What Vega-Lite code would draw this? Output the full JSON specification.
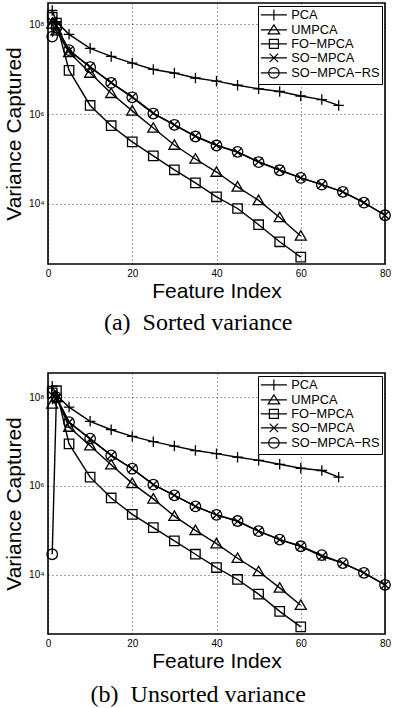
{
  "$schema": "https://vega.github.io/schema/vega-lite/v6.json",
  "padding": {"left": 2, "top": 1, "right": 5, "bottom": 0},
  "spacing": 36,
  "config": {
    "font": "Liberation Sans",
    "view": {"stroke": "black", "strokeWidth": 1.6},
    "axis": {
      "labelFont": "Liberation Sans", "labelFontSize": 10, "labelColor": "black",
      "titleFont": "Liberation Sans", "titleFontSize": 21, "titleFontWeight": "normal", "titleColor": "black",
      "domain": false, "ticks": false, "grid": true, "gridColor": "black", "gridDash": [1, 3],
      "gridWidth": 0.8, "gridOpacity": 0.9, "labelPadding": 4
    },
    "axisX": {"titlePadding": 2, "labelFlush": false},
    "axisY": {"titlePadding": 4},
    "legend": {
      "labelFont": "Liberation Sans", "labelFontSize": 12.8, "labelColor": "black",
      "fillColor": "white", "strokeColor": "black", "padding": 2.5,
      "rowPadding": -1, "symbolSize": 100, "symbolOffset": 7, "labelOffset": 11,
      "symbolStrokeColor": "black", "symbolStrokeWidth": 1.2, "symbolFillColor": "transparent"
    }
  },
  "datasets": {
    "sorted": [
      {"s": "PCA", "x": 1, "v": 199500000}, {"s": "PCA", "x": 2, "v": 112200000}, {"s": "PCA", "x": 5, "v": 58880000},
      {"s": "PCA", "x": 10, "v": 28840000}, {"s": "PCA", "x": 15, "v": 19050000}, {"s": "PCA", "x": 20, "v": 13490000},
      {"s": "PCA", "x": 25, "v": 9772000}, {"s": "PCA", "x": 30, "v": 8128000}, {"s": "PCA", "x": 35, "v": 6310000},
      {"s": "PCA", "x": 40, "v": 5370000}, {"s": "PCA", "x": 45, "v": 4365000}, {"s": "PCA", "x": 50, "v": 3631000},
      {"s": "PCA", "x": 55, "v": 3162000}, {"s": "PCA", "x": 60, "v": 2512000}, {"s": "PCA", "x": 65, "v": 2089000},
      {"s": "PCA", "x": 69, "v": 1549000},
      {"s": "UMPCA", "x": 1, "v": 100000000}, {"s": "UMPCA", "x": 2, "v": 70790000}, {"s": "UMPCA", "x": 5, "v": 23440000},
      {"s": "UMPCA", "x": 10, "v": 8128000}, {"s": "UMPCA", "x": 15, "v": 2884000}, {"s": "UMPCA", "x": 20, "v": 1175000},
      {"s": "UMPCA", "x": 25, "v": 489800}, {"s": "UMPCA", "x": 30, "v": 204200}, {"s": "UMPCA", "x": 35, "v": 100000},
      {"s": "UMPCA", "x": 40, "v": 51290}, {"s": "UMPCA", "x": 45, "v": 23990}, {"s": "UMPCA", "x": 50, "v": 12020},
      {"s": "UMPCA", "x": 55, "v": 5012}, {"s": "UMPCA", "x": 60, "v": 1950},
      {"s": "FO-MPCA", "x": 1, "v": 141300000}, {"s": "FO-MPCA", "x": 2, "v": 104700000}, {"s": "FO-MPCA", "x": 5, "v": 9333000},
      {"s": "FO-MPCA", "x": 10, "v": 1549000}, {"s": "FO-MPCA", "x": 15, "v": 549500}, {"s": "FO-MPCA", "x": 20, "v": 239900},
      {"s": "FO-MPCA", "x": 25, "v": 117500}, {"s": "FO-MPCA", "x": 30, "v": 57540}, {"s": "FO-MPCA", "x": 35, "v": 29510},
      {"s": "FO-MPCA", "x": 40, "v": 14450}, {"s": "FO-MPCA", "x": 45, "v": 7943}, {"s": "FO-MPCA", "x": 50, "v": 3467},
      {"s": "FO-MPCA", "x": 55, "v": 1445}, {"s": "FO-MPCA", "x": 60, "v": 660.7},
      {"s": "SO-MPCA", "x": 1, "v": 112200000}, {"s": "SO-MPCA", "x": 2, "v": 89130000}, {"s": "SO-MPCA", "x": 5, "v": 25700000},
      {"s": "SO-MPCA", "x": 10, "v": 11220000}, {"s": "SO-MPCA", "x": 15, "v": 5012000}, {"s": "SO-MPCA", "x": 20, "v": 2399000},
      {"s": "SO-MPCA", "x": 25, "v": 1047000}, {"s": "SO-MPCA", "x": 30, "v": 575400}, {"s": "SO-MPCA", "x": 35, "v": 323600},
      {"s": "SO-MPCA", "x": 40, "v": 204200}, {"s": "SO-MPCA", "x": 45, "v": 141300}, {"s": "SO-MPCA", "x": 50, "v": 87100},
      {"s": "SO-MPCA", "x": 55, "v": 57540}, {"s": "SO-MPCA", "x": 60, "v": 38020}, {"s": "SO-MPCA", "x": 65, "v": 26920},
      {"s": "SO-MPCA", "x": 70, "v": 18620}, {"s": "SO-MPCA", "x": 75, "v": 10720}, {"s": "SO-MPCA", "x": 80, "v": 5623},
      {"s": "SO-MPCA-RS", "x": 1, "v": 52480000}, {"s": "SO-MPCA-RS", "x": 2, "v": 83180000}, {"s": "SO-MPCA-RS", "x": 5, "v": 26300000},
      {"s": "SO-MPCA-RS", "x": 10, "v": 10960000}, {"s": "SO-MPCA-RS", "x": 15, "v": 4898000}, {"s": "SO-MPCA-RS", "x": 20, "v": 2344000},
      {"s": "SO-MPCA-RS", "x": 25, "v": 1023000}, {"s": "SO-MPCA-RS", "x": 30, "v": 575400}, {"s": "SO-MPCA-RS", "x": 35, "v": 316200},
      {"s": "SO-MPCA-RS", "x": 40, "v": 199500}, {"s": "SO-MPCA-RS", "x": 45, "v": 144500}, {"s": "SO-MPCA-RS", "x": 50, "v": 85110},
      {"s": "SO-MPCA-RS", "x": 55, "v": 56230}, {"s": "SO-MPCA-RS", "x": 60, "v": 38020}, {"s": "SO-MPCA-RS", "x": 65, "v": 26920},
      {"s": "SO-MPCA-RS", "x": 70, "v": 18620}, {"s": "SO-MPCA-RS", "x": 75, "v": 10720}, {"s": "SO-MPCA-RS", "x": 80, "v": 5623}
    ],
    "unsorted": [
      {"s": "PCA", "x": 1, "v": 177800000}, {"s": "PCA", "x": 2, "v": 112200000}, {"s": "PCA", "x": 5, "v": 60260000},
      {"s": "PCA", "x": 10, "v": 28840000}, {"s": "PCA", "x": 15, "v": 18620000}, {"s": "PCA", "x": 20, "v": 13180000},
      {"s": "PCA", "x": 25, "v": 10000000}, {"s": "PCA", "x": 30, "v": 7943000}, {"s": "PCA", "x": 35, "v": 6310000},
      {"s": "PCA", "x": 40, "v": 5370000}, {"s": "PCA", "x": 45, "v": 4467000}, {"s": "PCA", "x": 50, "v": 3802000},
      {"s": "PCA", "x": 55, "v": 3090000}, {"s": "PCA", "x": 60, "v": 2512000}, {"s": "PCA", "x": 65, "v": 2239000},
      {"s": "PCA", "x": 69, "v": 1585000},
      {"s": "UMPCA", "x": 1, "v": 70790000}, {"s": "UMPCA", "x": 2, "v": 100000000}, {"s": "UMPCA", "x": 5, "v": 21380000},
      {"s": "UMPCA", "x": 10, "v": 8128000}, {"s": "UMPCA", "x": 15, "v": 3020000}, {"s": "UMPCA", "x": 20, "v": 1148000},
      {"s": "UMPCA", "x": 25, "v": 512900}, {"s": "UMPCA", "x": 30, "v": 208900}, {"s": "UMPCA", "x": 35, "v": 100000},
      {"s": "UMPCA", "x": 40, "v": 50120}, {"s": "UMPCA", "x": 45, "v": 23440}, {"s": "UMPCA", "x": 50, "v": 11750},
      {"s": "UMPCA", "x": 55, "v": 5012}, {"s": "UMPCA", "x": 60, "v": 2042},
      {"s": "FO-MPCA", "x": 1, "v": 125900000}, {"s": "FO-MPCA", "x": 2, "v": 141300000}, {"s": "FO-MPCA", "x": 5, "v": 8913000},
      {"s": "FO-MPCA", "x": 10, "v": 1585000}, {"s": "FO-MPCA", "x": 15, "v": 537000}, {"s": "FO-MPCA", "x": 20, "v": 229100},
      {"s": "FO-MPCA", "x": 25, "v": 114800}, {"s": "FO-MPCA", "x": 30, "v": 57540}, {"s": "FO-MPCA", "x": 35, "v": 28840},
      {"s": "FO-MPCA", "x": 40, "v": 14450}, {"s": "FO-MPCA", "x": 45, "v": 7762}, {"s": "FO-MPCA", "x": 50, "v": 3631},
      {"s": "FO-MPCA", "x": 55, "v": 1479}, {"s": "FO-MPCA", "x": 60, "v": 660.7},
      {"s": "SO-MPCA", "x": 1, "v": 112200000}, {"s": "SO-MPCA", "x": 2, "v": 95500000}, {"s": "SO-MPCA", "x": 5, "v": 27540000},
      {"s": "SO-MPCA", "x": 10, "v": 11480000}, {"s": "SO-MPCA", "x": 15, "v": 4898000}, {"s": "SO-MPCA", "x": 20, "v": 2455000},
      {"s": "SO-MPCA", "x": 25, "v": 1072000}, {"s": "SO-MPCA", "x": 30, "v": 616600}, {"s": "SO-MPCA", "x": 35, "v": 346700},
      {"s": "SO-MPCA", "x": 40, "v": 223900}, {"s": "SO-MPCA", "x": 45, "v": 158500}, {"s": "SO-MPCA", "x": 50, "v": 95500},
      {"s": "SO-MPCA", "x": 55, "v": 61660}, {"s": "SO-MPCA", "x": 60, "v": 43650}, {"s": "SO-MPCA", "x": 65, "v": 25700},
      {"s": "SO-MPCA", "x": 70, "v": 18200}, {"s": "SO-MPCA", "x": 75, "v": 10960}, {"s": "SO-MPCA", "x": 80, "v": 5888},
      {"s": "SO-MPCA-RS", "x": 1, "v": 28840}, {"s": "SO-MPCA-RS", "x": 2, "v": 100000000}, {"s": "SO-MPCA-RS", "x": 5, "v": 27540000},
      {"s": "SO-MPCA-RS", "x": 10, "v": 11750000}, {"s": "SO-MPCA-RS", "x": 15, "v": 4898000}, {"s": "SO-MPCA-RS", "x": 20, "v": 2455000},
      {"s": "SO-MPCA-RS", "x": 25, "v": 1072000}, {"s": "SO-MPCA-RS", "x": 30, "v": 616600}, {"s": "SO-MPCA-RS", "x": 35, "v": 346700},
      {"s": "SO-MPCA-RS", "x": 40, "v": 223900}, {"s": "SO-MPCA-RS", "x": 45, "v": 162200}, {"s": "SO-MPCA-RS", "x": 50, "v": 95500},
      {"s": "SO-MPCA-RS", "x": 55, "v": 61660}, {"s": "SO-MPCA-RS", "x": 60, "v": 43650}, {"s": "SO-MPCA-RS", "x": 65, "v": 27540},
      {"s": "SO-MPCA-RS", "x": 70, "v": 18200}, {"s": "SO-MPCA-RS", "x": 75, "v": 10960}, {"s": "SO-MPCA-RS", "x": 80, "v": 5888}
    ]
  },
  "vconcat": [
    {
      "width": 337, "height": 261,
      "title": {"text": "(a)\u2002Sorted variance", "orient": "bottom", "frame": "bounds", "anchor": "middle", "font": "Liberation Serif", "fontSize": 24, "fontWeight": "normal", "color": "black", "offset": 10},
      "data": {"name": "sorted"},
      "encoding": {
        "x": {"field": "x", "type": "quantitative", "scale": {"domain": [0, 80], "nice": false}, "axis": {"values": [0, 20, 40, 60, 80], "title": "Feature Index"}},
        "y": {"field": "v", "type": "quantitative", "scale": {"type": "log", "domain": [464, 293000000], "nice": false}, "axis": {"values": [10000, 1000000, 100000000], "labelExpr": "datum.value == 10000 ? '10⁴' : datum.value == 1000000 ? '10⁶' : '10⁸'", "title": "Variance Captured"}}
      },
      "layer": [
        {"mark": {"type": "line", "color": "black", "strokeWidth": 1.4}, "encoding": {"detail": {"field": "s"}}},
        {
          "mark": {"type": "point", "filled": false, "color": "black", "strokeWidth": 1.3, "size": 110, "opacity": 1},
          "encoding": {
            "shape": {
              "field": "s", "type": "nominal", "legend": null,
              "scale": {"domain": ["PCA", "UMPCA", "FO-MPCA", "SO-MPCA", "SO-MPCA-RS"], "range": ["M-1,0H1M0,-1V1", "M0,-1L1.05,0.8L-1.05,0.8Z", "M-0.9,-0.9H0.9V0.9H-0.9Z", "M-0.8,-0.8L0.8,0.8M-0.8,0.8L0.8,-0.8", "circle"]}
            }
          }
        },
        {
          "transform": [{"filter": "false"}],
          "mark": {"type": "point", "filled": false, "color": "black", "strokeWidth": 1.2, "opacity": 1},
          "encoding": {
            "shape": {
              "field": "s", "type": "nominal",
              "scale": {"domain": ["PCA", "UMPCA", "FO-MPCA", "SO-MPCA", "SO-MPCA-RS"], "range": ["M-2.6,0H2.6M0,-1.1V1.1", "M-2.6,0H2.6M0,-1L1.15,0.8L-1.15,0.8Z", "M-2.6,0H2.6M-0.9,-0.9H0.9V0.9H-0.9Z", "M-2.6,0H2.6M-0.85,-0.85L0.85,0.85M-0.85,0.85L0.85,-0.85", "M-2.6,0H2.6M-1.05,0A1.05,1.05,0,1,1,1.05,0A1.05,1.05,0,1,1,-1.05,0Z"]},
              "legend": {
                "title": null, "orient": "top-right", "offset": 3, "fillColor": "white", "strokeColor": "black",
                "symbolStrokeColor": "black", "symbolFillColor": "transparent", "symbolOpacity": 1,
                "labelExpr": "replace(datum.label, /-/g, '−')"
              }
            }
          }
        }
      ],
      "resolve": {"scale": {"shape": "independent"}}
    },
    {
      "width": 337, "height": 261,
      "title": {"text": "(b)\u2002Unsorted variance", "orient": "bottom", "frame": "bounds", "anchor": "middle", "font": "Liberation Serif", "fontSize": 24, "fontWeight": "normal", "color": "black", "offset": 12},
      "data": {"name": "unsorted"},
      "encoding": {
        "x": {"field": "x", "type": "quantitative", "scale": {"domain": [0, 80], "nice": false}, "axis": {"values": [0, 20, 40, 60, 80], "title": "Feature Index"}},
        "y": {"field": "v", "type": "quantitative", "scale": {"type": "log", "domain": [457, 354800000], "nice": false}, "axis": {"values": [10000, 1000000, 100000000], "labelExpr": "datum.value == 10000 ? '10⁴' : datum.value == 1000000 ? '10⁶' : '10⁸'", "title": "Variance Captured"}}
      },
      "layer": [
        {"mark": {"type": "line", "color": "black", "strokeWidth": 1.4}, "encoding": {"detail": {"field": "s"}}},
        {
          "mark": {"type": "point", "filled": false, "color": "black", "strokeWidth": 1.3, "size": 110, "opacity": 1},
          "encoding": {
            "shape": {
              "field": "s", "type": "nominal", "legend": null,
              "scale": {"domain": ["PCA", "UMPCA", "FO-MPCA", "SO-MPCA", "SO-MPCA-RS"], "range": ["M-1,0H1M0,-1V1", "M0,-1L1.05,0.8L-1.05,0.8Z", "M-0.9,-0.9H0.9V0.9H-0.9Z", "M-0.8,-0.8L0.8,0.8M-0.8,0.8L0.8,-0.8", "circle"]}
            }
          }
        },
        {
          "transform": [{"filter": "false"}],
          "mark": {"type": "point", "filled": false, "color": "black", "strokeWidth": 1.2, "opacity": 1},
          "encoding": {
            "shape": {
              "field": "s", "type": "nominal",
              "scale": {"domain": ["PCA", "UMPCA", "FO-MPCA", "SO-MPCA", "SO-MPCA-RS"], "range": ["M-2.6,0H2.6M0,-1.1V1.1", "M-2.6,0H2.6M0,-1L1.15,0.8L-1.15,0.8Z", "M-2.6,0H2.6M-0.9,-0.9H0.9V0.9H-0.9Z", "M-2.6,0H2.6M-0.85,-0.85L0.85,0.85M-0.85,0.85L0.85,-0.85", "M-2.6,0H2.6M-1.05,0A1.05,1.05,0,1,1,1.05,0A1.05,1.05,0,1,1,-1.05,0Z"]},
              "legend": {
                "title": null, "orient": "top-right", "offset": 3, "fillColor": "white", "strokeColor": "black",
                "symbolStrokeColor": "black", "symbolFillColor": "transparent", "symbolOpacity": 1,
                "labelExpr": "replace(datum.label, /-/g, '−')"
              }
            }
          }
        }
      ],
      "resolve": {"scale": {"shape": "independent"}}
    }
  ]
}
